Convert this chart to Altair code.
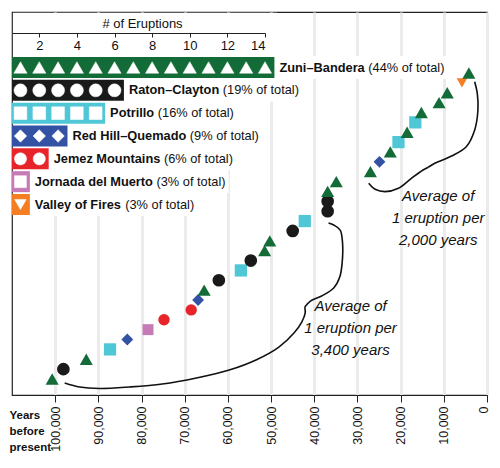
import altair as alt
import pandas as pd

FONT = "Liberation Sans"

# ---- volcanic fields (inset bar chart) ----
fields = ["Zuni–Bandera", "Raton–Clayton", "Potrillo", "Red Hill–Quemado",
          "Jemez Mountains", "Jornada del Muerto", "Valley of Fires"]
field_counts = [14, 6, 5, 3, 2, 1, 1]
field_pct = ["(44% of total)", "(19% of total)", "(16% of total)", "(9% of total)",
             "(6% of total)", "(3% of total)", "(3% of total)"]
field_colors = ["#136b38", "#1a1a1a", "#4fc7d6", "#3452a3", "#e8242b", "#c67bb6", "#f47e21"]
field_shapes = ["triangle-up", "circle", "square", "diamond", "circle", "square", "triangle-down"]
SQUARE_PATH = "M-1,-1L1,-1L1,1L-1,1Z"
inset_shapes = ["triangle-up", "circle", SQUARE_PATH, "diamond", "circle", SQUARE_PATH, "triangle-down"]
scatter_sizes = [170, 110, 80, 120, 110, 80, 140]
inset_sizes = [175, 136, 85, 136, 110, 85, 110]

# ---- eruptions, oldest first ----
eruption_years = [100700, 98100, 92800, 87300, 83300, 78500, 74800, 68500, 66900, 65500,
                  62100, 57000, 54700, 51500, 50300, 45000, 42200, 36900, 36900, 36900,
                  34900, 27000, 24900, 22400, 20500, 18500, 16600, 15200, 11100, 9200,
                  5800, 4200]
eruption_field_idx = [0, 1, 0, 2, 3, 5, 4, 4, 3, 0, 1, 2, 1, 0, 0, 1, 2, 1, 1, 0,
                      0, 0, 3, 0, 2, 0, 2, 0, 0, 0, 6, 0]

year_ticks = [100000, 90000, 80000, 70000, 60000, 50000, 40000, 30000, 20000, 10000, 0]
count_ticks = [2, 4, 6, 8, 10, 12, 14]

# ---- braces (years, cumulative count), two arms each ----
braces = {
    ("L", "a"): ([97800, 94300, 89700, 82800, 75200, 67300, 59700, 53500, 48200, 44700, 42900, 42100, 42200],
                 [0.60, 0.19, 0.04, 0.19, 0.49, 1.10, 1.91, 2.93, 4.24, 5.66, 6.77, 7.69, 8.29]),
    ("L", "b"): ([42200, 40900, 38300, 35500, 34100, 33550, 33450, 34000, 35500, 36700],
                 [8.29, 8.90, 9.41, 10.22, 11.33, 12.75, 14.78, 16.09, 16.60, 16.80]),
    ("R", "a"): ([27400, 25900, 23600, 20500, 17500, 14800, 13600],
                 [20.83, 20.22, 19.98, 20.32, 21.33, 22.17, 22.45]),
    ("R", "b"): ([13600, 12100, 8200, 4800, 2850, 2100, 2250, 2850],
                 [22.45, 22.85, 23.59, 24.53, 26.23, 28.25, 29.94, 31.12]),
}
ann_text = ["Average of\n1 eruption per\n3,400 years", "Average of\n1 eruption per\n2,000 years"]
ann_year = [31600, 11300]
ann_count = [8.40, 19.54]

# ---- layout constants for the inset scale ----
INSET_X_DOMAIN = [0.55, 14]
INSET_X_RANGE = [0, 253]
INSET_Y_RANGE = [55.5, 192.5]
PXU = (INSET_X_RANGE[1] - INSET_X_RANGE[0]) / (INSET_X_DOMAIN[1] - INSET_X_DOMAIN[0])
LABEL_SIZE = 12.8

BOLD_W = {"Z": 611, "u": 611, "n": 611, "i": 278, "–": 556, "B": 722, "a": 556, "d": 611,
          "e": 556, "r": 389, "R": 722, "t": 333, "o": 611, "C": 722, "l": 278, "y": 556,
          "P": 667, " ": 278, "H": 722, "Q": 778, "m": 889, "J": 556, "z": 500, "M": 833,
          "s": 556, "V": 667, "f": 333, "F": 611}
REG_W = {" ": 278, "(": 333, ")": 333, "%": 889, "o": 556, "f": 278, "t": 278, "a": 556, "l": 222}
for d in "0123456789":
    REG_W[d] = 556


def text_px(s, table):
    return sum(table.get(c, 556) for c in s) / 1000 * LABEL_SIZE


rows = []
for i, (f, n, p) in enumerate(zip(fields, field_counts, field_pct)):
    name_x = n + 0.5
    pct_x = name_x + (5 + text_px(f, BOLD_W) + text_px(" ", REG_W)) / PXU
    end_x = pct_x + (text_px(p, REG_W) + 3) / PXU
    rows.append(dict(field=f, row=i, n=n, pct=p, x0=0.55, x1=n + 0.5,
                     y0=i - 0.46, y1=i + 0.46, name_x=name_x, pct_x=pct_x,
                     kx0=0.6, kx1=end_x, ky0=i - 0.5, ky1=i + 0.5))
bars = pd.DataFrame(rows)
knock = pd.concat([bars[["kx0", "kx1", "ky0", "ky1"]],
                   pd.DataFrame([dict(kx0=0.6, kx1=14.65, ky0=-2.4, ky1=-0.5)])],
                  ignore_index=True)

sym_rows = []
for i, (f, n) in enumerate(zip(fields, field_counts)):
    for k in range(1, n + 1):
        sym_rows.append(dict(field=f, row=i, x=k))
syms = pd.DataFrame(sym_rows)

erupt = pd.DataFrame(dict(year=eruption_years,
                          field=[fields[i] for i in eruption_field_idx],
                          count=list(range(1, len(eruption_years) + 1))))

brace_rows = []
for (b, arm), (ys, cs) in braces.items():
    for k, (yv, cv) in enumerate(zip(ys, cs)):
        brace_rows.append(dict(seg=b + arm, k=k, year=yv, count=cv))
brace_df = pd.DataFrame(brace_rows)
ann = pd.DataFrame(dict(text=ann_text, year=ann_year, count=ann_count))


# ---- scales ----
def ix():
    return alt.Scale(domain=INSET_X_DOMAIN, range=INSET_X_RANGE, nice=False, zero=False)


def iy():
    return alt.Scale(domain=[0, 6], range=INSET_Y_RANGE, nice=False, zero=False)


def mx():
    return alt.Scale(domain=[0, 110000], reverse=True, nice=False, zero=False)


def my():
    return alt.Scale(domain=[-0.62, 38.18], nice=False, zero=False)


col = alt.Scale(domain=fields, range=field_colors)

# ---- main timeline ----
pts = alt.Chart(erupt).mark_point(filled=True, opacity=1).encode(
    x=alt.X("year:Q", scale=mx(),
            axis=alt.Axis(orient="bottom", values=year_ticks,
                          labelExpr="format(datum.value, ',')", labelAngle=-90,
                          labelOffset={"condition": {"test": "datum.value === 0", "value": -4},
                                       "value": 0},
                          grid=True, gridWidth=3, gridColor="#ebebeb",
                          tickSize=7, tickColor="#222", domainColor="#222",
                          labelFont=FONT, labelFontSize=12.5, labelColor="#111", labelPadding=4,
                          title=["Years", "before", "present"], titleFont=FONT, titleFontSize=11.5,
                          titleFontWeight="bold", titleColor="#111", titleAngle=0,
                          titleAlign="left", titleBaseline="top", titleX=-3, titleY=14,
                          titleLineHeight=16)),
    y=alt.Y("count:Q", scale=my(), axis=None),
    color=alt.Color("field:N", scale=col, legend=None),
    shape=alt.Shape("field:N", scale=alt.Scale(domain=fields, range=field_shapes), legend=None),
    size=alt.Size("field:N", scale=alt.Scale(domain=fields, range=scatter_sizes), legend=None))

brace_l = alt.Chart(brace_df).mark_line(color="#111", strokeWidth=1.6,
                                        interpolate="catmull-rom").encode(
    x=alt.X("year:Q", scale=mx(), axis=None),
    y=alt.Y("count:Q", scale=my(), axis=None),
    detail="seg:N",
    order=alt.Order("k:Q"))

ann_l = alt.Chart(ann).mark_text(align="center", baseline="middle", lineBreak="\n",
                                 lineHeight=22, font=FONT, fontSize=15, fontStyle="italic",
                                 color="#111").encode(
    x=alt.X("year:Q", scale=mx(), axis=None),
    y=alt.Y("count:Q", scale=my(), axis=None),
    text="text:N")

# ---- inset ----
knock_l = alt.Chart(knock).mark_rect(color="white").encode(
    x=alt.X("kx0:Q", scale=ix(), axis=None), x2="kx1:Q",
    y=alt.Y("ky0:Q", scale=iy(), axis=None), y2="ky1:Q")

bar_l = alt.Chart(bars).mark_rect().encode(
    x=alt.X("x0:Q", scale=ix(),
            axis=alt.Axis(orient="bottom", offset=-362, values=count_ticks, title="# of Eruptions",
                          zindex=1, grid=False, tickSize=4, tickColor="#222", domainColor="#222",
                          labelFontSize=13, labelColor="#111", labelPadding=2, labelFont=FONT,
                          titleFont=FONT, titleFontSize=13, titleFontWeight="normal",
                          titleColor="#111", titleY=-10, titleX=130, titleBaseline="middle")),
    x2="x1:Q",
    y=alt.Y("y0:Q", scale=iy(), axis=None), y2="y1:Q",
    color=alt.Color("field:N", scale=col, legend=None))

sym_l = alt.Chart(syms).mark_point(filled=True, opacity=1, fill="#ffffff",
                                   stroke="#ffffff", strokeWidth=0.5).encode(
    x=alt.X("x:Q", scale=ix(), axis=None),
    y=alt.Y("row:Q", scale=iy(), axis=None),
    shape=alt.Shape("field:N", scale=alt.Scale(domain=fields, range=inset_shapes), legend=None),
    size=alt.Size("field:N", scale=alt.Scale(domain=fields, range=inset_sizes), legend=None))

name_l = alt.Chart(bars).mark_text(align="left", baseline="middle", dx=5, font=FONT,
                                   fontSize=LABEL_SIZE, fontWeight="bold", color="#111").encode(
    x=alt.X("name_x:Q", scale=ix(), axis=None),
    y=alt.Y("row:Q", scale=iy(), axis=None),
    text="field:N")

pct_l = alt.Chart(bars).mark_text(align="left", baseline="middle", font=FONT,
                                  fontSize=LABEL_SIZE, color="#111").encode(
    x=alt.X("pct_x:Q", scale=ix(), axis=None),
    y=alt.Y("row:Q", scale=iy(), axis=None),
    text="pct:N")

chart = alt.layer(pts, knock_l, bar_l, sym_l, name_l, pct_l, brace_l, ann_l).resolve_scale(
    x="independent", y="independent", size="independent", shape="independent"
).resolve_axis(x="independent", y="independent").properties(
    width=475, height=383, autosize=alt.AutoSizeParams(type="none"),
    padding={"left": 4, "top": 4, "right": 5, "bottom": 64}
).configure(font=FONT).configure_view(stroke="#222", strokeWidth=1.2)

chart.save("out.html", embed_options={"renderer": "svg", "actions": False})
